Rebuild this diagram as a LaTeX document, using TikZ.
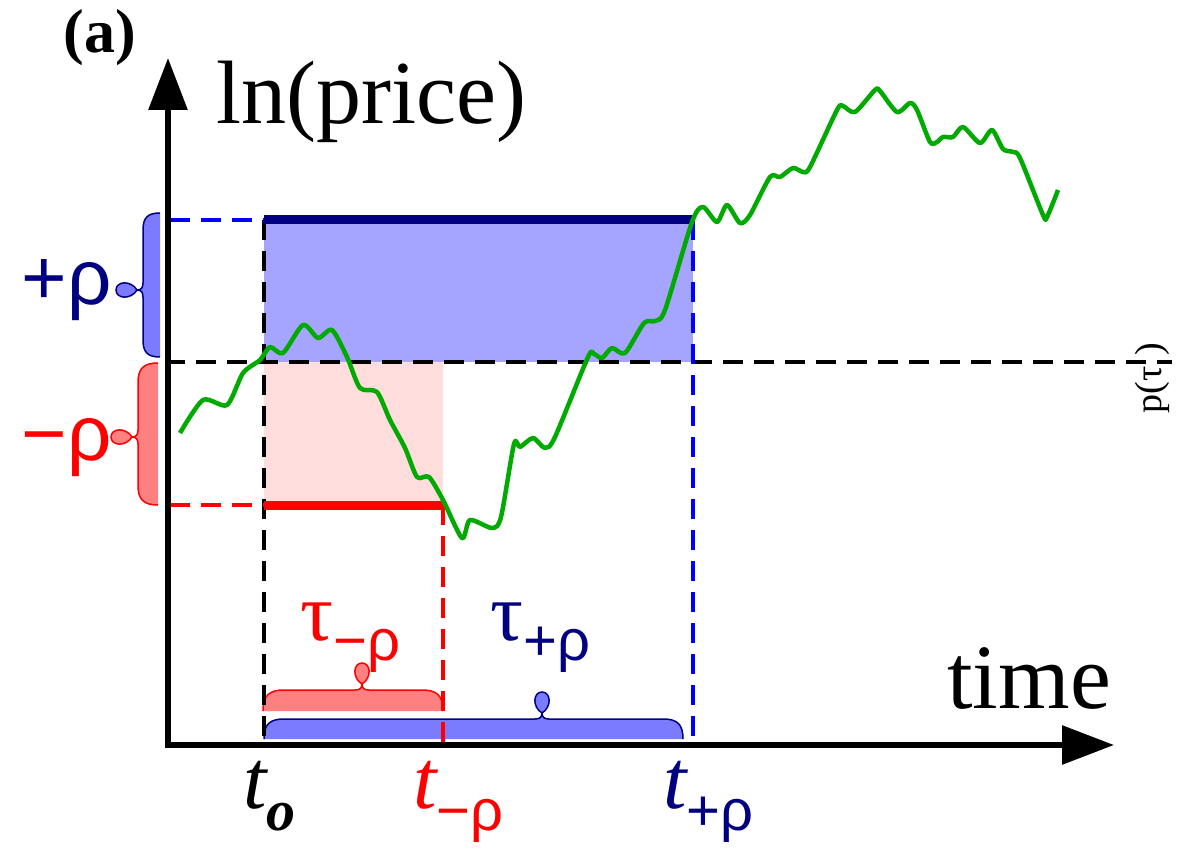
\documentclass[tikz,border=0pt]{standalone}
\usepackage{fontspec}
\setmainfont{Liberation Serif}
\newfontfamily\grk{Liberation Sans}
\usetikzlibrary{arrows.meta}

\definecolor{navy}{RGB}{0,0,128}
\definecolor{upfill}{RGB}{165,165,255}
\definecolor{upbrace}{RGB}{123,123,255}
\definecolor{downfill}{RGB}{255,221,221}
\definecolor{downbrace}{RGB}{255,128,128}
\definecolor{pricegreen}{RGB}{0,170,0}

\tikzset{
  axis/.style={line width=6pt, -{Triangle[length=52pt,width=38pt]}},
  guide/.style={line width=3.5pt, dash pattern=on 20pt off 11pt},
  level/.style={line width=9pt},
  price/.style={pricegreen, line width=4.5pt, line join=round}
}

% curly brace with a small loop at its tip
\newcommand{\curlybrace}[6]{%
  \begin{scope}[#1]
    \fill[#5] (0,0) .. controls (0,-0.75*#3) and (0.3*#3,-#3) .. (#3,-#3)
      -- (#4-7,-#3) .. controls (#4-2,-#3) and (#4,-#3-2) .. (#4,-#3-6)
      .. controls (#4-10,-#3-12) and (#4-9,-#3-27) .. (#4,-#3-27)
      .. controls (#4+9,-#3-27) and (#4+10,-#3-12) .. (#4,-#3-6)
      .. controls (#4,-#3-2) and (#4+2,-#3) .. (#4+7,-#3)
      -- (#2-#3,-#3) .. controls (#2-0.3*#3,-#3) and (#2,-0.75*#3) .. (#2,0) -- cycle;
    \draw[#6, line width=1.5pt] (0,0) .. controls (0,-0.75*#3) and (0.3*#3,-#3) .. (#3,-#3)
      -- (#4-7,-#3) .. controls (#4-2,-#3) and (#4,-#3-2) .. (#4,-#3-6)
      .. controls (#4-10,-#3-12) and (#4-9,-#3-27) .. (#4,-#3-27)
      .. controls (#4+9,-#3-27) and (#4+10,-#3-12) .. (#4,-#3-6)
      .. controls (#4,-#3-2) and (#4+2,-#3) .. (#4+7,-#3)
      -- (#2-#3,-#3) .. controls (#2-0.3*#3,-#3) and (#2,-0.75*#3) .. (#2,0);
  \end{scope}}

\newcommand{\tlab}[1]{{\fontsize{84}{84}\selectfont\itshape t}\raisebox{-22pt}{\fontsize{58}{58}\selectfont #1}}
\newcommand{\taulab}[1]{{\fontsize{82}{82}\selectfont τ}\raisebox{-20pt}{\fontsize{58}{58}\selectfont\grk #1}}

\begin{document}
\begin{tikzpicture}[x=1pt, y=-1pt]
  \useasboundingbox (0,0) rectangle (1182,858);

  % key points
  \coordinate (orig) at (168,745);
  \coordinate (ytip) at (168,58);
  \coordinate (xtip) at (1114,745);
  \coordinate (up0) at (170,220);
  \coordinate (upA) at (264,220);
  \coordinate (upB) at (693,220);
  \coordinate (mid0) at (165,362);
  \coordinate (midA) at (264,362);
  \coordinate (midB) at (693,362);
  \coordinate (midE) at (1172,362);
  \coordinate (dn0) at (170,505);
  \coordinate (dnA) at (264,505);
  \coordinate (dnB) at (443,505);
  \coordinate (t0) at (264,745);
  \coordinate (tm) at (443,745);
  \coordinate (tp) at (693,745);

  % shaded regions
  \fill[upfill] (upA) rectangle (midB);
  \fill[downfill] (midA) rectangle (dnB);

  % braces
  \curlybrace{shift={(160,357)}, rotate=90}{144}{17}{67}{upbrace}{navy}
  \curlybrace{shift={(158,505)}, rotate=90}{142}{20}{68}{downbrace}{red}
  \curlybrace{shift={(264,739)}}{419}{20}{278}{upbrace}{navy}
  \curlybrace{shift={(263,711)}}{180}{21}{99}{downbrace}{red}

  % guide lines
  \draw[guide] (mid0) -- (midE);
  \draw[guide] (upA) -- (t0);
  \draw[guide, blue] (up0) -- (upA);
  \draw[guide, blue] (upB) -- (tp);
  \draw[guide, red] (dn0) -- (dnA);
  \draw[guide, red] (dnB) -- (tm);

  % levels
  \draw[level, navy] (upA) -- (upB);
  \draw[level, red] (dnA) -- (dnB);

  % axes
  \draw[axis] (168,748) -- (ytip);
  \draw[axis] (165,745) -- (xtip);

  % price path
  \draw[price] plot[smooth, tension=0.45] coordinates {
    (180,433) (203,400) (227,405) (243,373) (260,360) (270,347) (283,353)
    (303,325) (318,338) (332,330) (347,357) (360,388) (377,392) (390,420)
    (405,448) (417,477) (429,477) (443,500) (462,538) (470,520) (492,528)
    (501,517) (514,444) (520,447) (533,438) (545,448) (555,437) (588,357)
    (594,354) (602,358) (612,348) (625,353) (644,323) (655,321) (665,310)
    (692,222) (703,207) (717,222) (727,205) (740,223) (750,215) (770,177)
    (780,177) (793,168) (803,172) (810,167) (837,110) (843,106) (855,112)
    (875,90) (880,91) (897,112) (910,103) (917,110) (930,142) (937,142)
    (943,137) (953,137) (963,127) (980,143) (992,130) (1003,149) (1013,152)
    (1020,158) (1043,215) (1047,217) (1058,190)};

  % labels
  \node[font=\fontsize{62}{62}\selectfont\bfseries] (panel) at (100,38) {(a)};
  \node[font=\fontsize{90}{90}\selectfont, anchor=base west, inner sep=0pt] (ylabel) at (216,124) {ln(price)};
  \node[font=\fontsize{92}{92}\selectfont, anchor=base east, inner sep=0pt] (xlabel) at (1111,708) {time};
  \node[font=\fontsize{38}{38}\selectfont, rotate=90] (ptau) at (1152,378) {p(τ\hspace{0.3em})};
  \node[font=\fontsize{78}{78}\selectfont\grk, text=navy, anchor=base east, inner sep=0pt] (plusrho) at (112,305) {+ρ};
  \node[font=\fontsize{78}{78}\selectfont\grk, text=red, anchor=base east, inner sep=0pt] (minusrho) at (112,460) {−ρ};
  \node[text=red, anchor=base west, inner sep=0pt] (taum) at (300,640) {\taulab{−ρ}};
  \node[text=navy, anchor=base west, inner sep=0pt] (taup) at (490,640) {\taulab{+ρ}};
  \node[anchor=base west, inner sep=0pt] (lt0) at (243,808) {\tlab{\bfseries\itshape o}};
  \node[text=red, anchor=base west, inner sep=0pt] (ltm) at (413,808) {\tlab{\grk −ρ}};
  \node[text=navy, anchor=base west, inner sep=0pt] (ltp) at (663,808) {\tlab{\grk +ρ}};
\end{tikzpicture}
\end{document}
